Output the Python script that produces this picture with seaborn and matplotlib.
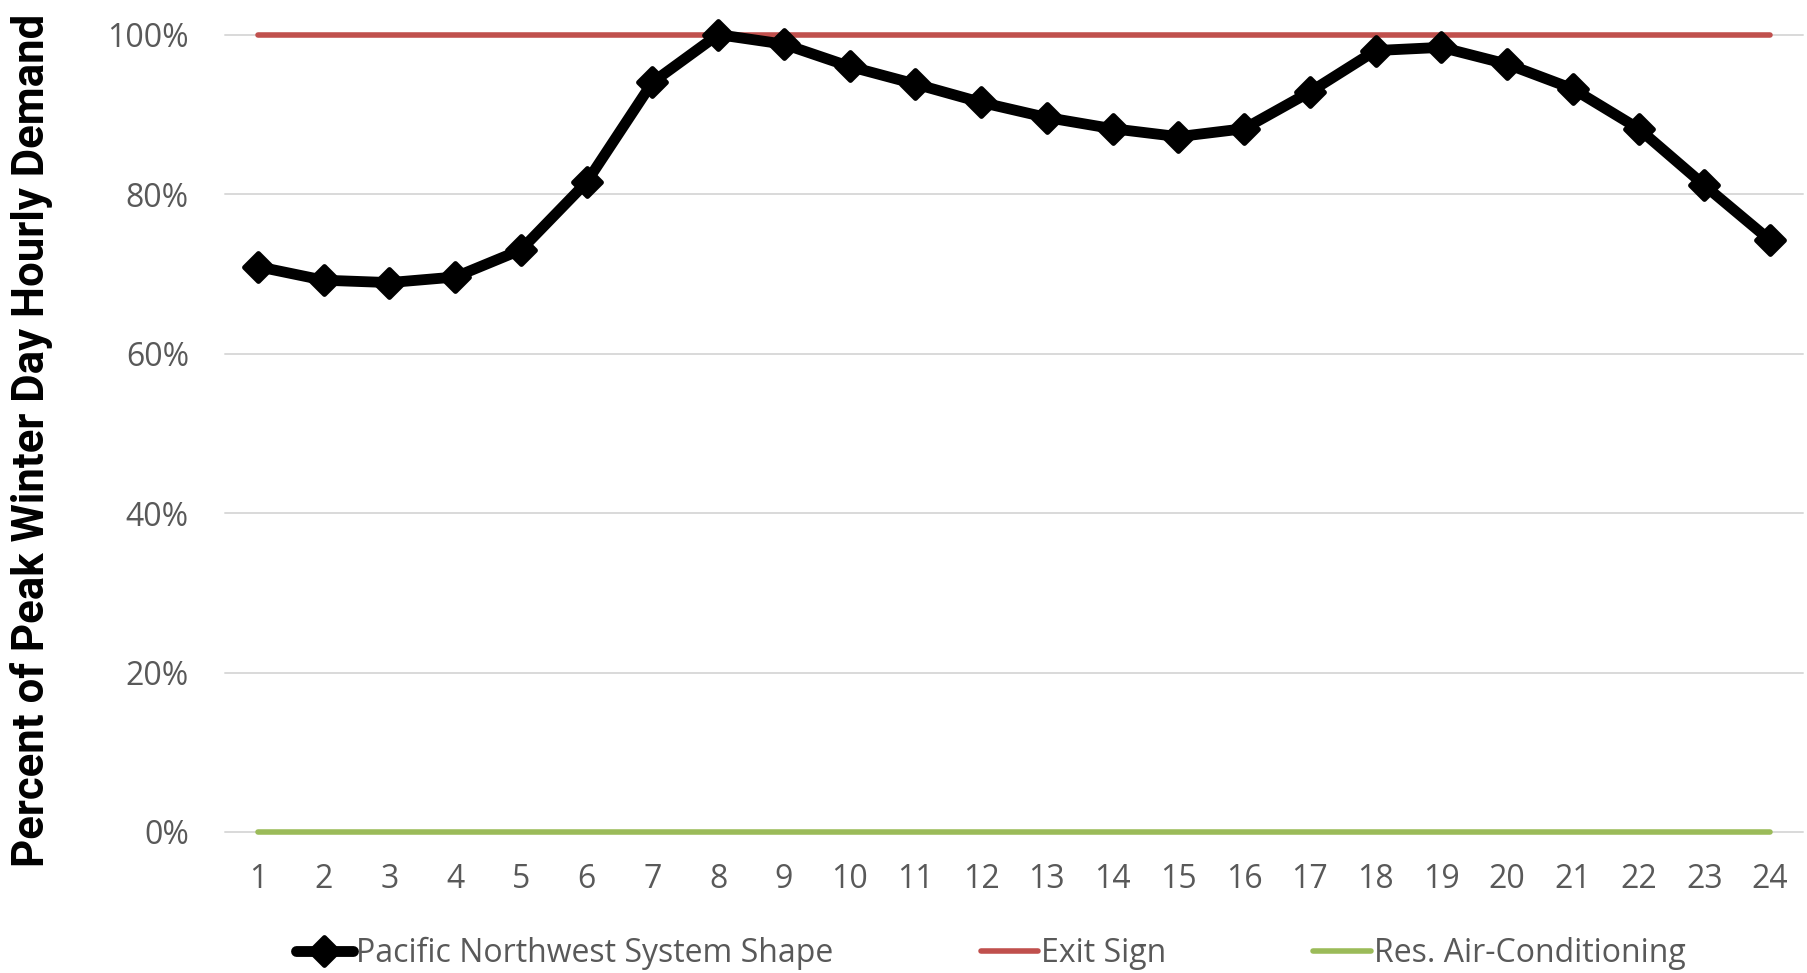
import matplotlib
matplotlib.use("Agg")
import matplotlib.pyplot as plt
from matplotlib.markers import MarkerStyle
import seaborn as sns
import pandas as pd
import numpy as np
from matplotlib.ticker import PercentFormatter

hours = list(range(1, 25))
pnw_shape = [0.709, 0.692, 0.689, 0.696, 0.730, 0.815, 0.940, 1.000, 0.988, 0.960,
             0.938, 0.915, 0.896, 0.882, 0.872, 0.882, 0.928, 0.980, 0.984, 0.963,
             0.932, 0.882, 0.811, 0.742]
exit_sign = [1.0] * 24
res_ac = [0.0] * 24
series_names = ["Pacific Northwest System Shape", "Exit Sign", "Res. Air-Conditioning"]
y_ticks = [0, 0.2, 0.4, 0.6, 0.8, 1.0]

sns.set_theme(style="white")
plt.rcParams['font.family'] = ['Open Sans', 'DejaVu Sans']

fig = plt.figure(figsize=(18.08, 9.73), dpi=100)
ax = fig.add_axes([225 / 1808, 141 / 973, (1803 - 225) / 1808, (832 - 34.6) / 973])

df = pd.DataFrame({"hour": hours, "pnw": pnw_shape, "exit": exit_sign, "ac": res_ac})

for yv in y_ticks:
    ax.axhline(yv, color="#D9D9D9", lw=1.4, zorder=0)

sns.lineplot(data=df, x="hour", y="ac", ax=ax, color="#9BBB59", lw=4,
             solid_capstyle="round", label=series_names[2], zorder=2)
sns.lineplot(data=df, x="hour", y="exit", ax=ax, color="#C0504D", lw=4,
             solid_capstyle="round", label=series_names[1], zorder=3)
sns.lineplot(data=df, x="hour", y="pnw", ax=ax, color="black", lw=7.8,
             marker=MarkerStyle("D", joinstyle="round"), markersize=14,
             markeredgewidth=3.5, markeredgecolor="black",
             label=series_names[0], zorder=4)
for ln in ax.lines:
    ln.set_clip_on(False)

ax.set_xlim(0.5, 24.5)
ax.set_ylim(0, 1.0)
ax.set_xticks(hours)
ax.set_xticklabels([str(h) for h in hours])
ax.set_yticks(y_ticks)
ax.yaxis.set_major_formatter(PercentFormatter(1.0, decimals=0))
ax.tick_params(axis="both", labelsize=23, colors="#595959", length=0)
ax.tick_params(axis="x", pad=22)
ax.tick_params(axis="y", pad=26)
for s in ax.spines.values():
    s.set_visible(False)
ax.set_xlabel("")
ax.set_ylabel("")

handles, labels = ax.get_legend_handles_labels()
order = [labels.index(n) for n in series_names]
ax.legend([handles[i] for i in order], [labels[i] for i in order],
          loc="center", bbox_to_anchor=(0.548, 0.02), bbox_transform=fig.transFigure,
          ncol=3, frameon=False, fontsize=23, labelcolor="#595959",
          handlelength=1.8, handletextpad=0.1, columnspacing=4.6)

fig.text(32 / 1808, 0.547, "Percent of Peak Winter Day Hourly Demand",
         rotation=90, ha="center", va="center", fontsize=31.5, fontweight="bold",
         color="black", family=['Liberation Sans Narrow', 'Roboto', 'DejaVu Sans'])

fig.savefig("out.png", dpi=100)
